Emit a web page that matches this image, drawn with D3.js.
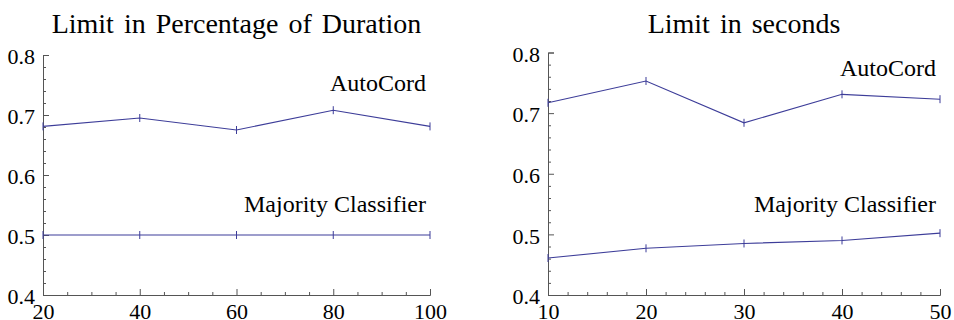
<html>
  <head>
    <script src="https://d3js.org/d3.v7.min.js"></script>
    <style>
      body { margin: 0; background: #fff; }
      svg { font-family: "Liberation Serif", "Times New Roman", serif; }
      .axis path, .axis line { stroke: #555; stroke-width: 1; }
      .axis text { fill: #000; }
      .line { fill: none; stroke: #3d3d99; stroke-width: 1.1; }
      .mark { stroke: #3d3d99; stroke-width: 1; }
      .title { font-size: 28px; word-spacing: 3px; }
      .label { font-size: 24px; }
    </style>
  </head>
  <body>
    <div id="chart"></div>
    <script>
// left panel: limit as percentage of duration
var pctX = [20, 40, 60, 80, 100];
var pctAutoCord = [0.681, 0.695, 0.675, 0.708, 0.681];
var pctMajority = [0.5, 0.5, 0.5, 0.5, 0.5];

// right panel: limit in seconds
var secX = [10, 20, 30, 40, 50];
var secAutoCord = [0.717, 0.753, 0.684, 0.731, 0.723];
var secMajority = [0.461, 0.477, 0.485, 0.490, 0.502];

var yTicks = [0.4, 0.5, 0.6, 0.7, 0.8];
var titles = ["Limit in Percentage of Duration", "Limit in seconds"];
var seriesNames = ["AutoCord", "Majority Classifier"];

var width = 954, height = 320;
var serif = "Liberation Serif";

var svg = d3.select("#chart").append("svg")
  .attr("width", width)
  .attr("height", height);

var panels = [
  {title: titles[0], xs: pctX, series: [pctAutoCord, pctMajority],
   xDomain: [20, 100], xRange: [43, 430], yRange: [295, 55],
   xMajor: [20, 40, 60, 80, 100], xStep: 5, labelY: [0.74, 0.538]},
  {title: titles[1], xs: secX, series: [secAutoCord, secMajority],
   xDomain: [10, 50], xRange: [548, 940], yRange: [295, 52.5],
   xMajor: [10, 20, 30, 40, 50], xStep: 2, labelY: [0.7605, 0.537]}
];

panels.forEach(function(p) {
  var x = d3.scaleLinear().domain(p.xDomain).range(p.xRange);
  var y = d3.scaleLinear().domain([0.4, 0.8]).range(p.yRange);
  var g = svg.append("g");

  // minor ticks
  var xMinor = d3.range(p.xDomain[0], p.xDomain[1] + 0.001, p.xStep)
    .filter(v => p.xMajor.indexOf(v) < 0);
  var yMinor = d3.range(0.4, 0.801, 0.02)
    .filter(v => yTicks.every(t => Math.abs(t - v) > 1e-6));

  g.append("g").attr("class", "axis")
    .attr("transform", `translate(0, ${p.yRange[0]})`)
    .call(d3.axisBottom(x).tickValues(xMinor).tickFormat("").tickSize(-3).tickSizeOuter(0))
    .select(".domain").remove();
  g.append("g").attr("class", "axis")
    .attr("transform", `translate(${p.xRange[0]}, 0)`)
    .call(d3.axisLeft(y).tickValues(yMinor).tickFormat("").tickSize(-3).tickSizeOuter(0))
    .select(".domain").remove();

  // major axes
  var xa = g.append("g").attr("class", "axis")
    .attr("transform", `translate(0, ${p.yRange[0]})`)
    .call(d3.axisBottom(x).tickValues(p.xMajor).tickSize(-6).tickSizeOuter(-6).tickPadding(8).tickFormat(d3.format("d")))
    .attr("font-family", serif).attr("font-size", 22);
  xa.selectAll("text").attr("dy", "0.71em");

  var ya = g.append("g").attr("class", "axis")
    .attr("transform", `translate(${p.xRange[0]}, 0)`)
    .call(d3.axisLeft(y).tickValues(yTicks).tickSize(-6).tickSizeOuter(-6).tickPadding(8).tickFormat(d3.format(".1f")))
    .attr("font-family", serif).attr("font-size", 22);
  ya.selectAll("text").attr("dy", "0.4em");

  var line = d3.line()
    .x((d, i) => x(p.xs[i]))
    .y(d => y(d));

  p.series.forEach(function(s, k) {
    g.append("path").attr("class", "line").attr("d", line(s));
    g.selectAll(null).data(s).enter().append("line")
      .attr("class", "mark")
      .attr("x1", (d, i) => x(p.xs[i]))
      .attr("x2", (d, i) => x(p.xs[i]))
      .attr("y1", d => y(d) - 4)
      .attr("y2", d => y(d) + 4);
    g.append("text").attr("class", "label")
      .attr("text-anchor", "end")
      .attr("x", p.xRange[1] - 4)
      .attr("y", y(p.labelY[k]))
      .text(seriesNames[k]);
  });

  g.append("text").attr("class", "title")
    .attr("text-anchor", "middle")
    .attr("x", (p.xRange[0] + p.xRange[1]) / 2)
    .attr("y", 33)
    .text(p.title);
});
    </script>
  </body>
</html>
